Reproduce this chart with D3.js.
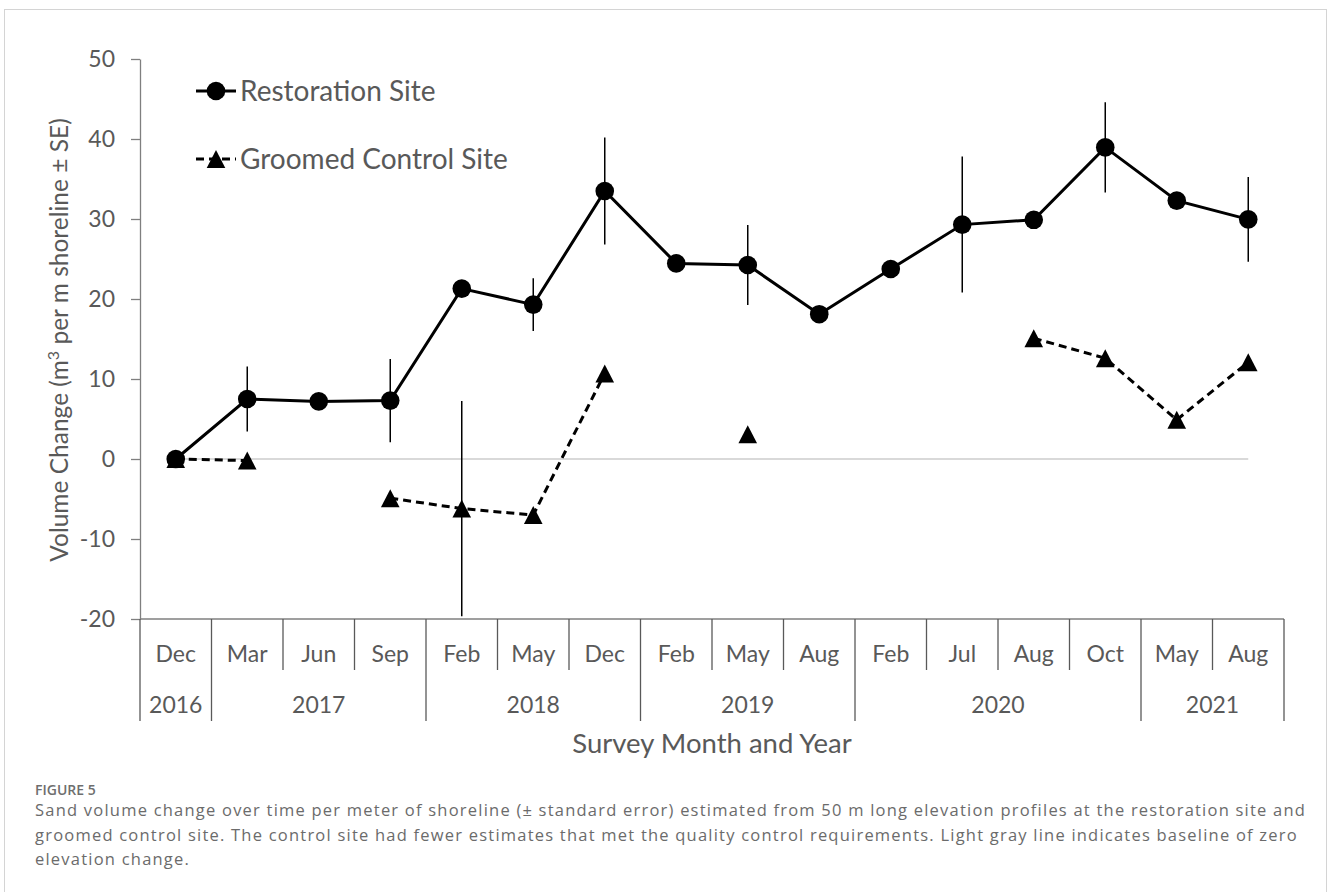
<!DOCTYPE html>
<html>
<head>
<meta charset="utf-8">
<script src="https://cdn.jsdelivr.net/npm/d3@7"></script>
<style>
  html, body { margin: 0; padding: 0; background: #fff; }
  svg { display: block; }
</style>
</head>
<body>
<script>
// Survey categories (month, year)
const months = ["Dec","Mar","Jun","Sep","Feb","May","Dec","Feb","May","Aug","Feb","Jul","Aug","Oct","May","Aug"];
const years  = [2016,2017,2017,2017,2018,2018,2018,2019,2019,2019,2020,2020,2020,2020,2021,2021];

// Volume change (m3 per m shoreline) and standard error
const restoration   = [0, 7.5, 7.2, 7.3, 21.3, 19.3, 33.5, 24.45, 24.25, 18.1, 23.75, 29.3, 29.9, 38.95, 32.3, 29.95];
const restorationSE = [null, 4.05, null, 5.2, null, 3.3, 6.7, null, 5.0, null, null, 8.5, null, 5.65, null, 5.3];
const groomed       = [0, -0.2, null, -4.9, -6.2, -7.0, 10.7, null, 3.1, null, null, null, 15.1, 12.6, 4.9, 12.1];
const groomedSE     = [null, null, null, null, 13.45, null, null, null, null, null, null, null, null, null, null, null];

const yTicks = [-20, -10, 0, 10, 20, 30, 40, 50];
const seriesNames = ["Restoration Site", "Groomed Control Site"];

const W = 1328, H = 892;
const FONT = "Lato, 'Open Sans', sans-serif";
const TEXT = "#595959";

const svg = d3.select("body").append("svg").attr("width", W).attr("height", H);

// outer figure frame
svg.append("rect").attr("x", 4.5).attr("y", 9.5).attr("width", 1322).attr("height", 900)
  .attr("fill", "#fff").attr("stroke", "#d4d4d4").attr("stroke-width", 1);

const x = d3.scaleBand().domain(d3.range(months.length)).range([140, 1284]);
const cx = i => x(i) + x.bandwidth() / 2;
const y = d3.scaleLinear().domain([-20, 50]).range([619, 59]);

// zero baseline
svg.append("line")
  .attr("x1", cx(0)).attr("x2", cx(months.length - 1))
  .attr("y1", y(0)).attr("y2", y(0))
  .attr("stroke", "#d9d9d9").attr("stroke-width", 2);

// y axis
const yAxis = svg.append("g").attr("transform", "translate(140,0)")
  .call(d3.axisLeft(y).tickValues(yTicks).tickFormat(d => String(d))
    .tickSize(9).tickPadding(16).tickSizeOuter(0));
yAxis.select(".domain").attr("stroke", "#7f7f7f").attr("stroke-width", 1.3);
yAxis.selectAll(".tick line").attr("stroke", "#7f7f7f").attr("stroke-width", 1.3);
yAxis.selectAll(".tick text").attr("font-family", FONT).attr("font-size", 23).attr("fill", TEXT);

// category axis: base line, separators, month and year labels
const xg = svg.append("g");
xg.append("line").attr("x1", 140).attr("x2", 1284).attr("y1", y(-20)).attr("y2", y(-20))
  .attr("stroke", "#7f7f7f").attr("stroke-width", 1.3);

const bounds = d3.range(months.length + 1).map(i => ({
  pos: i < months.length ? x(i) : x(months.length - 1) + x.bandwidth(),
  long: i === 0 || i === months.length || years[i] !== years[i - 1]
}));
xg.selectAll("line.sep").data(bounds).join("line").attr("class", "sep")
  .attr("x1", d => d.pos).attr("x2", d => d.pos)
  .attr("y1", y(-20)).attr("y2", d => d.long ? 721 : 670)
  .attr("stroke", "#595959").attr("stroke-width", 1.3);

xg.selectAll("text.month").data(months).join("text").attr("class", "month")
  .attr("x", (d, i) => cx(i)).attr("y", 662)
  .attr("text-anchor", "middle").attr("font-family", FONT).attr("font-size", 23).attr("fill", TEXT)
  .text(d => d);

const yearGroups = d3.groups(d3.range(months.length), i => years[i]).map(([yr, idx]) => ({
  yr, x0: x(idx[0]), x1: x(idx[idx.length - 1]) + x.bandwidth()
}));
xg.selectAll("text.year").data(yearGroups).join("text").attr("class", "year")
  .attr("x", d => (d.x0 + d.x1) / 2).attr("y", 713)
  .attr("text-anchor", "middle").attr("font-family", FONT).attr("font-size", 23).attr("fill", TEXT)
  .text(d => d.yr);

// axis titles
svg.append("text").attr("x", 712).attr("y", 753).attr("text-anchor", "middle")
  .attr("font-family", FONT).attr("font-size", 27.5).attr("fill", TEXT)
  .text("Survey Month and Year");

const yt = svg.append("text").attr("transform", "translate(68,340) rotate(-90)").attr("text-anchor", "middle")
  .attr("font-family", FONT).attr("font-size", 24.5).attr("fill", TEXT);
yt.append("tspan").text("Volume Change (m");
yt.append("tspan").attr("baseline-shift", "super").attr("font-size", 16).text("3");
yt.append("tspan").text(" per m shoreline \u00B1 SE)");

// marker helpers
const R = 9.3;
const triPath = (px, py) => {
  const p = d3.path();
  p.moveTo(px, py - 9); p.lineTo(px + 9.3, py + 9); p.lineTo(px - 9.3, py + 9); p.closePath();
  return p.toString();
};

function drawSeries(vals, se, dashed, marker) {
  const pts = vals.map((v, i) => ({ i, v, se: se[i] }));
  const g = svg.append("g");
  // error bars
  g.selectAll("line.err").data(pts.filter(d => d.v != null && d.se != null)).join("line")
    .attr("x1", d => cx(d.i)).attr("x2", d => cx(d.i))
    .attr("y1", d => y(d.v + d.se)).attr("y2", d => y(d.v - d.se))
    .attr("stroke", "#000").attr("stroke-width", 1.5);
  // connecting line with gaps
  const line = d3.line().defined(d => d.v != null).x(d => cx(d.i)).y(d => y(d.v));
  g.append("path").datum(pts).attr("d", line).attr("fill", "none")
    .attr("stroke", "#000").attr("stroke-width", 3)
    .attr("stroke-dasharray", dashed ? "8,5" : null);
  // markers
  const valid = pts.filter(d => d.v != null);
  if (marker === "circle") {
    g.selectAll("circle").data(valid).join("circle")
      .attr("cx", d => cx(d.i)).attr("cy", d => y(d.v)).attr("r", R).attr("fill", "#000");
  } else {
    g.selectAll("path.tri").data(valid).join("path").attr("class", "tri")
      .attr("d", d => triPath(cx(d.i), y(d.v))).attr("fill", "#000");
  }
}

drawSeries(restoration, restorationSE, false, "circle");
drawSeries(groomed, groomedSE, true, "triangle");

// legend
const legend = svg.append("g");
const legendRows = [
  { name: seriesNames[0], dashed: false, marker: "circle", ly: 91 },
  { name: seriesNames[1], dashed: true, marker: "triangle", ly: 159 }
];
legendRows.forEach(r => {
  legend.append("line").attr("x1", 196).attr("x2", 236).attr("y1", r.ly).attr("y2", r.ly)
    .attr("stroke", "#000").attr("stroke-width", 3).attr("stroke-dasharray", r.dashed ? "8,5" : null);
  if (r.marker === "circle") legend.append("circle").attr("cx", 216).attr("cy", r.ly).attr("r", R).attr("fill", "#000");
  else legend.append("path").attr("d", triPath(216, r.ly)).attr("fill", "#000");
  legend.append("text").attr("x", 240).attr("y", r.ly + 10)
    .attr("font-family", FONT).attr("font-size", 28).attr("fill", TEXT).text(r.name);
});

// caption
const CAP = "'Open Sans', sans-serif";
svg.append("text").attr("x", 35).attr("y", 795).attr("font-family", CAP).attr("font-size", 14)
  .attr("font-weight", 600).attr("fill", "#6e6e6e").text("FIGURE 5");
const capLines = [
  "Sand volume change over time per meter of shoreline (\u00B1 standard error) estimated from 50 m long elevation profiles at the restoration site and",
  "groomed control site. The control site had fewer estimates that met the quality control requirements. Light gray line indicates baseline of zero",
  "elevation change."
];
svg.selectAll("text.cap").data(capLines).join("text").attr("class", "cap")
  .attr("x", 35).attr("y", (d, i) => 816 + i * 24.5)
  .attr("font-family", CAP).attr("font-size", 16.5).attr("letter-spacing", 1.22).attr("fill", "#6b6b6b")
  .text(d => d);
</script>
</body>
</html>
